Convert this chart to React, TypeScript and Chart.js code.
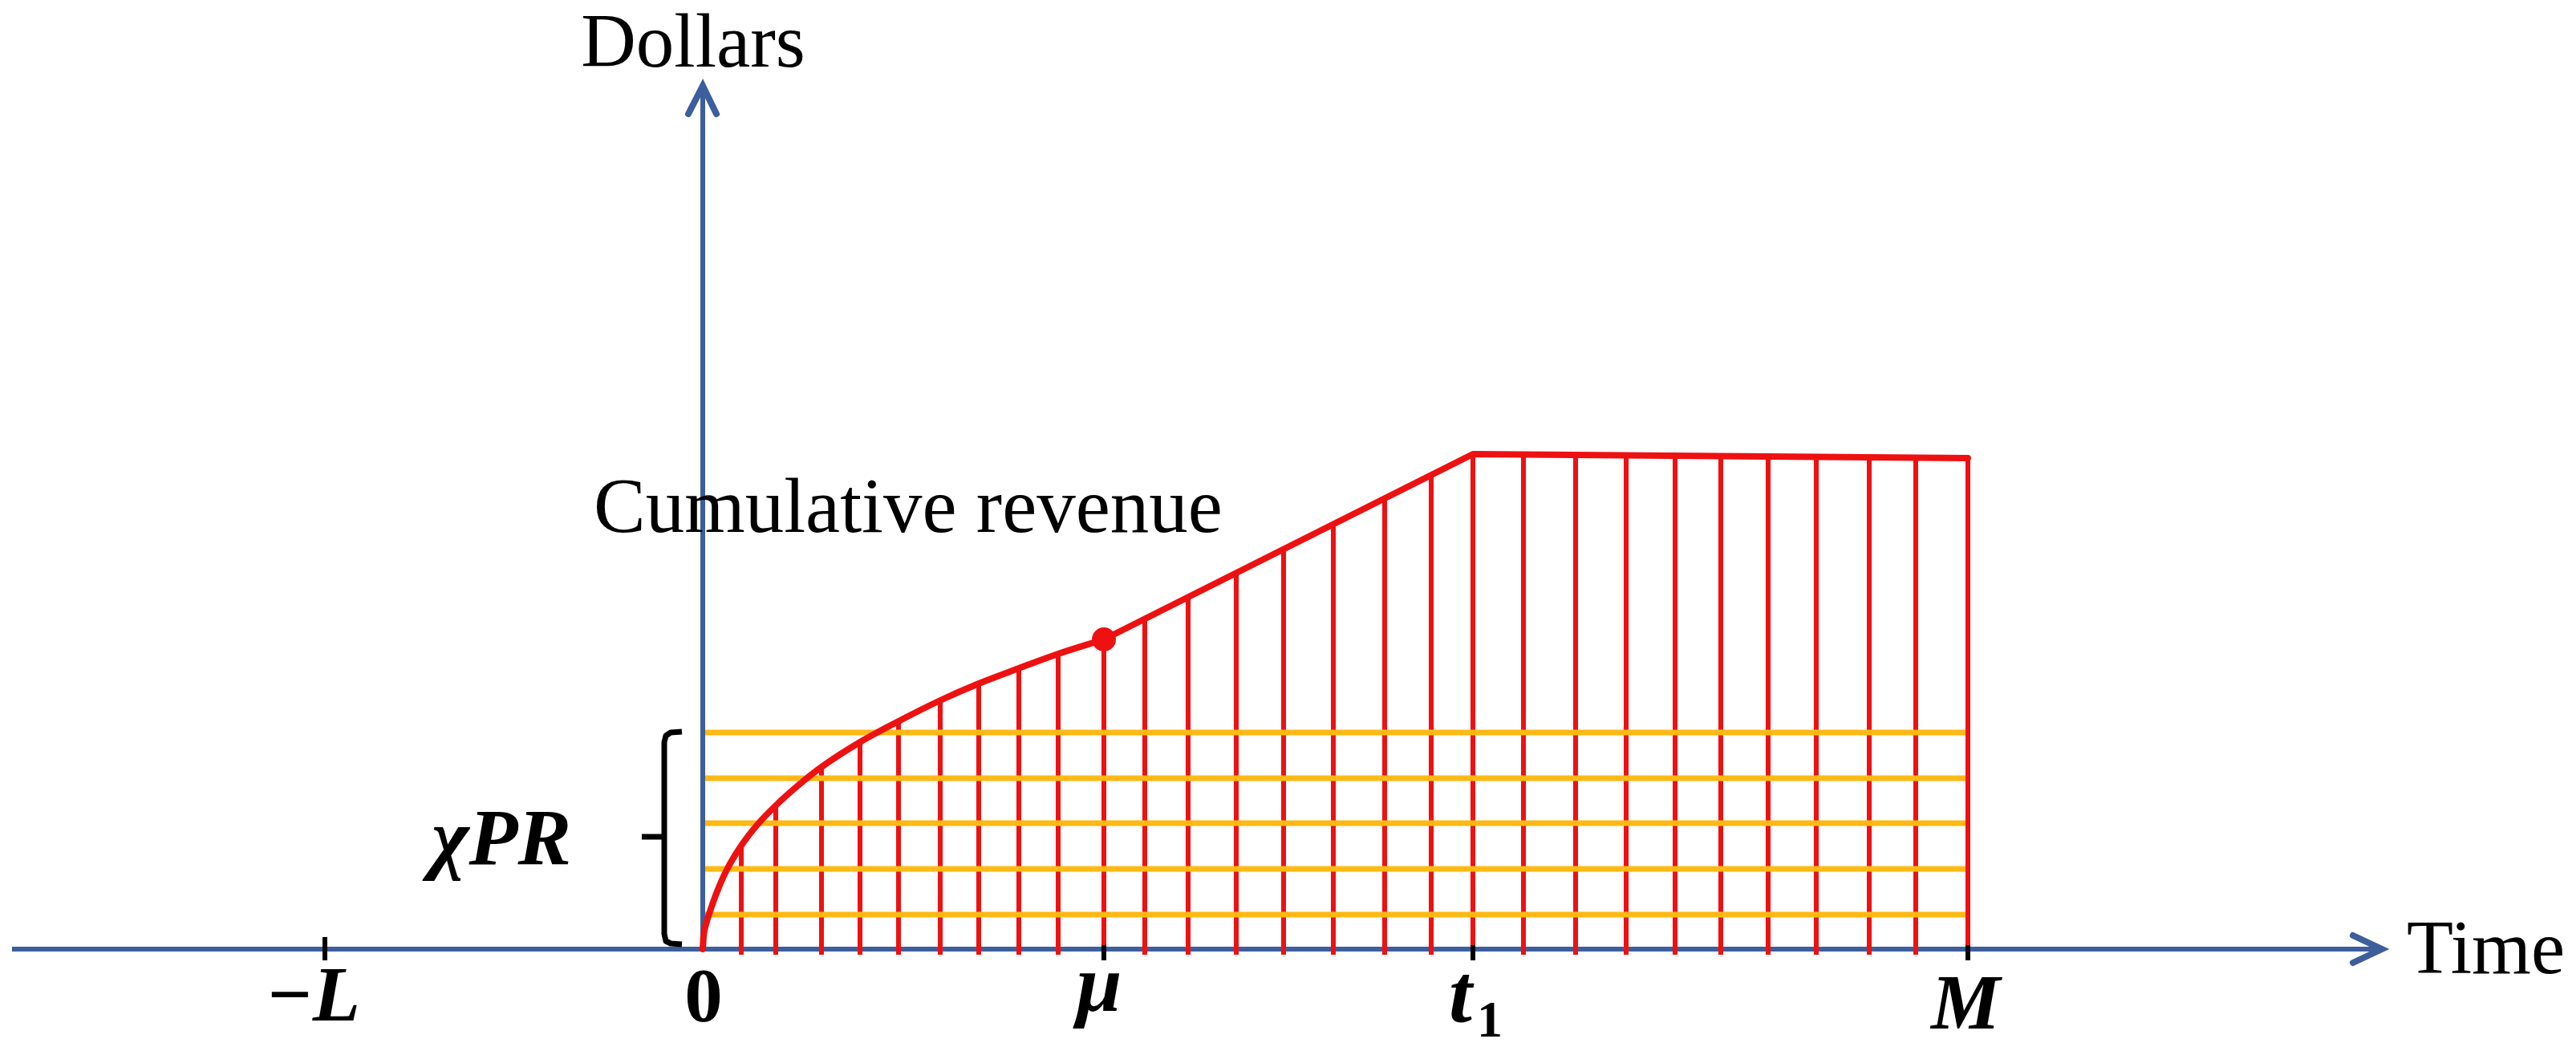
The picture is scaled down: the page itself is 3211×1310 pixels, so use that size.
import { useEffect, useRef } from 'react';
import { Chart, registerables } from 'chart.js';

Chart.register(...registerables);

// ---- data (time units on x, dollar units on y) ----
const curveTimes = [0, 0.01, 0.04, 0.09, 0.18, 0.3, 0.48, 0.68, 0.91, 1.2, 1.48, 1.96, 2.44, 2.96, 3.44, 3.94, 4.43, 5.0];
const curveRevenue = [0, 0.16, 0.31, 0.47, 0.72, 0.99, 1.29, 1.55, 1.79, 2.05, 2.27, 2.58, 2.84, 3.1, 3.31, 3.5, 3.68, 3.86];
const linearTimes = [5.0, 9.6, 15.77];
const linearRevenue = [3.86, 6.17, 6.12];
const stripeTimes = [0.48, 0.91, 1.48, 1.96, 2.44, 2.96, 3.44, 3.94, 4.43, 5.0, 5.51, 6.05, 6.65, 7.24, 7.86, 8.5, 9.08, 9.6, 10.23, 10.88, 11.51, 12.12, 12.69, 13.28, 13.88, 14.54, 15.12, 15.77];
const stripeRevenue = [1.29, 1.79, 2.27, 2.58, 2.84, 3.1, 3.31, 3.5, 3.68, 3.86, 4.12, 4.39, 4.69, 4.98, 5.3, 5.62, 5.91, 6.17, 6.16, 6.16, 6.15, 6.15, 6.14, 6.14, 6.13, 6.13, 6.12, 6.12];
const chiPRLevels = [0.43, 1.0, 1.57, 2.13, 2.7];
const muPoint = { time: 5.0, revenue: 3.86 };
const tickTimes = [-4.71, 0, 5.0, 9.6, 15.77];
const tickLabels = ['\u2212L', '0', '\u03bc', 't', 'M'];
const xAxisTitle = 'Time';
const yAxisTitle = 'Dollars';
const curveTitle = 'Cumulative revenue';
const bracketLabel = '\u03c7PR';

const RED = '#EE1111';
const ORANGE = '#FFB914';
const BLUE = '#3C5E9C';
const SERIF = '"Liberation Serif", "Times New Roman", serif';

const gapLines = (segs: { x: number; y: number }[][]) => {
  const out: ({ x: number; y: number | null })[] = [];
  segs.forEach((s) => {
    s.forEach((p) => out.push(p));
    out.push({ x: s[s.length - 1].x, y: null });
  });
  return out;
};

const labelPlugin = {
  id: 'labels',
  afterDatasetsDraw(chart: any) {
    const { ctx } = chart;
    const xs = chart.scales.x;
    const ys = chart.scales.y;
    const px = (v: number) => xs.getPixelForValue(v);
    const py = (v: number) => ys.getPixelForValue(v);
    ctx.save();
    ctx.fillStyle = '#000';
    ctx.textBaseline = 'alphabetic';

    ctx.font = `95px ${SERIF}`;
    ctx.textAlign = 'center';
    ctx.fillText(yAxisTitle, px(-0.12), py(11.0));
    ctx.textAlign = 'left';
    ctx.fillText(xAxisTitle, px(21.24), py(-0.3));
    ctx.font = `97px ${SERIF}`;
    ctx.fillText(curveTitle, px(-1.36), py(5.2));

    // tick labels
    const bi = `italic bold 97px ${SERIF}`;
    ctx.textAlign = 'center';
    ctx.font = bi;
    ctx.fillText(tickLabels[0], px(tickTimes[0] - 0.15), py(-0.89));
    ctx.font = `bold 95px ${SERIF}`;
    ctx.fillText(tickLabels[1], px(tickTimes[1] + 0.01), py(-0.9));
    ctx.font = `italic bold 102px ${SERIF}`;
    ctx.fillText(tickLabels[2], px(tickTimes[2] - 0.06), py(-0.77));
    ctx.textAlign = 'left';
    ctx.font = `italic bold 104px ${SERIF}`;
    ctx.fillText(tickLabels[3], px(tickTimes[3] - 0.3), py(-0.9));
    ctx.font = `bold 64px ${SERIF}`;
    ctx.fillText('1', px(tickTimes[3] + 0.05), py(-1.09));
    ctx.font = bi;
    ctx.textAlign = 'center';
    ctx.fillText(tickLabels[4], px(tickTimes[4] - 0.03), py(-0.99));

    ctx.textAlign = 'left';
    ctx.font = `italic bold 100px ${SERIF}`;
    ctx.fillText(bracketLabel, px(-3.38), py(1.06));
    ctx.restore();
  },
};

const base = {
  pointRadius: 0,
  pointHoverRadius: 0,
  fill: false,
  tension: 0,
  borderCapStyle: 'butt' as const,
  spanGaps: false,
};

export default function App() {
  const ref = useRef<HTMLCanvasElement | null>(null);
  useEffect(() => {
    if (!ref.current) return;
    const curve = curveTimes.map((t, i) => ({ x: t, y: curveRevenue[i] }));
    const lin = linearTimes.map((t, i) => ({ x: t, y: linearRevenue[i] }));
    const stripes = gapLines(stripeTimes.map((t, i) => [{ x: t, y: -0.07 }, { x: t, y: stripeRevenue[i] }]));
    const orange = gapLines(chiPRLevels.map((v) => [{ x: 0.03, y: v }, { x: stripeTimes[stripeTimes.length - 1] - 0.03, y: v }]));
    const ticks = gapLines(tickTimes.filter((t) => t !== 0).map((t, i) => [{ x: t, y: i === 0 ? 0.15 : 0.05 }, { x: t, y: -0.14 }]));
    const bracket = gapLines([
      [
        { x: -0.26, y: 2.71 },
        { x: -0.4, y: 2.7 },
        { x: -0.46, y: 2.66 },
        { x: -0.48, y: 2.58 },
        { x: -0.48, y: 0.19 },
        { x: -0.46, y: 0.1 },
        { x: -0.4, y: 0.07 },
        { x: -0.26, y: 0.06 },
      ],
      [
        { x: -0.76, y: 1.4 },
        { x: -0.48, y: 1.4 },
      ],
    ]);

    const chart = new Chart(ref.current, {
      type: 'line',
      data: {
        datasets: [
          {
            ...base,
            data: [{ x: muPoint.time, y: muPoint.revenue }],
            showLine: false,
            pointRadius: 15,
            pointBackgroundColor: RED,
            pointBorderColor: RED,
            borderWidth: 0,
          },
          { ...base, data: curve, borderColor: RED, borderWidth: 8, cubicInterpolationMode: 'monotone', borderCapStyle: 'round' },
          { ...base, data: lin, borderColor: RED, borderWidth: 8, borderJoinStyle: 'round', borderCapStyle: 'round' },
          { ...base, data: ticks, borderColor: '#000', borderWidth: 6 },
          { ...base, data: orange, borderColor: ORANGE, borderWidth: 7 },
          { ...base, data: stripes, borderColor: RED, borderWidth: 6 },
          { ...base, data: bracket, borderColor: '#000', borderWidth: 7, borderJoinStyle: 'round' },
          { ...base, data: [{ x: -8.61, y: 0 }, { x: 20.9, y: 0 }], borderColor: BLUE, borderWidth: 6 },
          { ...base, data: [{ x: 0, y: 0 }, { x: 0, y: 10.7 }], borderColor: BLUE, borderWidth: 6 },
          {
            ...base,
            data: [{ x: 20.57, y: 0.17 }, { x: 20.93, y: 0 }, { x: 20.57, y: -0.17 }],
            borderColor: BLUE,
            borderWidth: 8,
            borderCapStyle: 'round',
            borderJoinStyle: 'miter',
          },
          {
            ...base,
            data: [{ x: -0.18, y: 10.41 }, { x: 0, y: 10.76 }, { x: 0.17, y: 10.41 }],
            borderColor: BLUE,
            borderWidth: 8,
            borderCapStyle: 'round',
            borderJoinStyle: 'miter',
          },
        ] as any,
      },
      options: {
        animation: false,
        responsive: false,
        events: [],
        layout: { padding: 0, autoPadding: false },
        plugins: { legend: { display: false }, tooltip: { enabled: false } },
        scales: {
          x: { type: 'linear', min: -8.76, max: 23.35, display: false },
          y: { type: 'linear', min: -1.27, max: 11.83, display: false },
        },
      } as any,
      plugins: [labelPlugin],
    });
    return () => chart.destroy();
  }, []);

  return (
    <div style={{ position: 'fixed', left: 0, top: 0, width: 3211, height: 1310, background: '#fff' }}>
      <canvas ref={ref} width={3211} height={1310} style={{ display: 'block', width: 3211, height: 1310 }} />
    </div>
  );
}
